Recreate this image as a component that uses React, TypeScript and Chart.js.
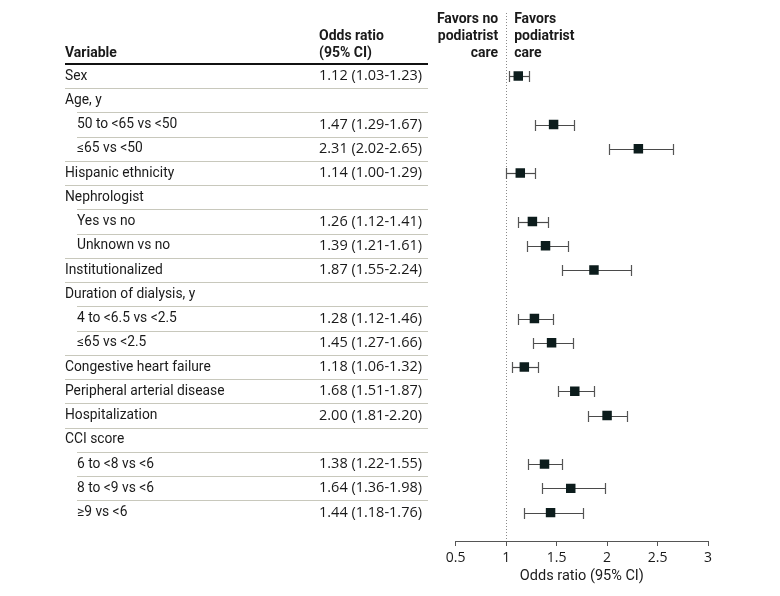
import React, { useEffect, useRef } from "react";
import { Chart, registerables } from "chart.js";

Chart.register(...registerables);

const variables = [
  "Sex",
  "Age, y",
  "50 to <65 vs <50",
  "≤65 vs <50",
  "Hispanic ethnicity",
  "Nephrologist",
  "Yes vs no",
  "Unknown vs no",
  "Institutionalized",
  "Duration of dialysis, y",
  "4 to <6.5 vs <2.5",
  "≤65 vs <2.5",
  "Congestive heart failure",
  "Peripheral arterial disease",
  "Hospitalization",
  "CCI score",
  "6 to <8 vs <6",
  "8 to <9 vs <6",
  "≥9 vs <6",
];
const indentLevels = [0, 0, 1, 1, 0, 0, 1, 1, 0, 0, 1, 1, 0, 0, 0, 0, 1, 1, 1];
const oddsRatios = [1.12, null, 1.47, 2.31, 1.14, null, 1.26, 1.39, 1.87, null, 1.28, 1.45, 1.18, 1.68, 2.0, null, 1.38, 1.64, 1.44];
const ciLower = [1.03, null, 1.29, 2.02, 1.0, null, 1.12, 1.21, 1.55, null, 1.12, 1.27, 1.06, 1.51, 1.81, null, 1.22, 1.36, 1.18];
const ciUpper = [1.23, null, 1.67, 2.65, 1.29, null, 1.41, 1.61, 2.24, null, 1.46, 1.66, 1.32, 1.87, 2.2, null, 1.55, 1.98, 1.76];
const xTicks = [0.5, 1, 1.5, 2, 2.5, 3];
const referenceValue = 1;

const FONT = "Roboto, 'Noto Sans', sans-serif";
const NUMFONT = "'Open Sans', Roboto, sans-serif";
const TEXT = "#1a1a1a";

function fmt(v: number) {
  return v.toFixed(2);
}

const tablePlugin = {
  id: "forestTable",
  beforeDatasetsDraw(chart: any) {
    const ctx = chart.ctx;
    const xs = chart.scales.x;
    const ys = chart.scales.y;
    const area = chart.chartArea;
    ctx.save();
    // reference dotted line
    const rx = Math.round(xs.getPixelForValue(referenceValue)) + 0.5;
    ctx.strokeStyle = "#8a8a8a";
    ctx.lineWidth = 1;
    ctx.setLineDash([1, 2]);
    ctx.beginPath();
    ctx.moveTo(rx, area.top);
    ctx.lineTo(rx, area.bottom);
    ctx.stroke();
    ctx.setLineDash([]);

    // error bars
    const capH = 5.5;
    for (let i = 0; i < variables.length; i++) {
      const lo = ciLower[i];
      const hi = ciUpper[i];
      if (lo == null || hi == null) continue;
      const y = Math.round(ys.getPixelForValue(i)) + 0.5;
      const x1 = Math.round(xs.getPixelForValue(lo)) + 0.5;
      const x2 = Math.round(xs.getPixelForValue(hi)) + 0.5;
      ctx.strokeStyle = "#4a4a4a";
      ctx.lineWidth = 1.2;
      ctx.beginPath();
      ctx.moveTo(x1, y);
      ctx.lineTo(x2, y);
      ctx.stroke();
      ctx.strokeStyle = "#555";
      ctx.beginPath();
      ctx.moveTo(x1, y - capH);
      ctx.lineTo(x1, y + capH);
      ctx.moveTo(x2, y - capH);
      ctx.lineTo(x2, y + capH);
      ctx.stroke();
    }
    ctx.restore();
  },
  afterDraw(chart: any) {
    const ctx = chart.ctx;
    const ys = chart.scales.y;
    const xs = chart.scales.x;
    const colLeft = 65;
    const colIndent = 77;
    const colOR = 319;
    const colRight = 428;
    ctx.save();
    ctx.textBaseline = "middle";
    ctx.fillStyle = TEXT;

    // header
    ctx.font = `bold 14px ${FONT}`;
    ctx.textAlign = "left";
    const hY2 = ys.getPixelForValue(-0.95);
    const hY1 = ys.getPixelForValue(-1.63);
    const hY0 = ys.getPixelForValue(-2.32);
    ctx.fillText("Variable", colLeft, hY2);
    ctx.fillText("Odds ratio", colOR, hY1);
    ctx.fillText("(95% CI)", colOR, hY2);

    const rx = xs.getPixelForValue(referenceValue);
    ctx.textAlign = "right";
    ctx.fillText("Favors no", rx - 8, hY0);
    ctx.fillText("podiatrist", rx - 8, hY1);
    ctx.fillText("care", rx - 8, hY2);
    ctx.textAlign = "left";
    ctx.fillText("Favors", rx + 8, hY0);
    ctx.fillText("podiatrist", rx + 8, hY1);
    ctx.fillText("care", rx + 8, hY2);

    // header rule
    const topLine = Math.round(ys.getPixelForValue(-0.5));
    ctx.fillStyle = "#111";
    ctx.fillRect(colLeft, topLine - 1, colRight - colLeft, 2);

    // separators
    ctx.strokeStyle = "#c8c8bc";
    ctx.lineWidth = 1;
    for (let i = 0; i < variables.length - 1; i++) {
      const y = Math.round(ys.getPixelForValue(i + 0.5)) + 0.5;
      const start = indentLevels[i + 1] === 1 ? colIndent : colLeft;
      ctx.beginPath();
      ctx.moveTo(start, y);
      ctx.lineTo(colRight, y);
      ctx.stroke();
    }

    // rows
    ctx.fillStyle = TEXT;
    ctx.textAlign = "left";
    for (let i = 0; i < variables.length; i++) {
      const y = ys.getPixelForValue(i);
      const x = indentLevels[i] === 1 ? colIndent : colLeft;
      ctx.font = `400 13.8px ${FONT}`;
      ctx.fillText(variables[i], x, y);
      const o = oddsRatios[i];
      const lo = ciLower[i];
      const hi = ciUpper[i];
      if (o != null && lo != null && hi != null) {
        ctx.font = `400 14.5px ${NUMFONT}`;
        ctx.fillText(`${fmt(o)} (${fmt(lo)}-${fmt(hi)})`, colOR, y);
      }
    }
    ctx.restore();
  },
};

export default function App() {
  const ref = useRef<HTMLCanvasElement | null>(null);
  useEffect(() => {
    if (!ref.current) return;
    const points = oddsRatios
      .map((v, i) => (v == null ? null : { x: v, y: i }))
      .filter((p) => p !== null) as { x: number; y: number }[];
    const chart = new Chart(ref.current, {
      type: "scatter",
      data: {
        datasets: [
          {
            data: points,
            pointStyle: "rect",
            pointRadius: 6.7,
            pointHoverRadius: 6.7,
            backgroundColor: "#0c1c1c",
            borderColor: "#0c1c1c",
            borderWidth: 0,
          },
        ],
      },
      options: {
        animation: false,
        responsive: false,
        devicePixelRatio: 1,
        events: [],
        layout: { padding: { left: 455.7, right: 72, top: 13, bottom: 0 } },
        plugins: { legend: { display: false }, tooltip: { enabled: false }, title: { display: false } },
        scales: {
          x: {
            type: "linear",
            min: 0.5,
            max: 3,
            afterBuildTicks: (scale: any) => {
              scale.ticks = xTicks.map((v) => ({ value: v }));
            },
            afterFit: (scale: any) => {
              scale.height = 55;
            },
            grid: {
              drawOnChartArea: false,
              drawTicks: true,
              tickLength: 5,
              color: "#555",
            },
            border: { display: true, color: "#555", width: 1 },
            ticks: {
              color: TEXT,
              padding: 4,
              font: { family: NUMFONT, size: 14 },
              callback: (v: any) => String(v),
            },
            title: {
              display: true,
              text: "Odds ratio (95% CI)",
              color: TEXT,
              font: { family: FONT, size: 14.5 },
              padding: { top: 4, bottom: 11 },
            },
          },
          y: {
            type: "linear",
            reverse: true,
            min: -2.6,
            max: 19.17,
            display: false,
          },
        },
      },
      plugins: [tablePlugin],
    } as any);
    return () => chart.destroy();
  }, []);
  return (
    <div style={{ position: "fixed", left: 0, top: 0, width: 780, height: 596, background: "#fff" }}>
      <canvas ref={ref} width={780} height={596} style={{ width: 780, height: 596, display: "block" }} />
    </div>
  );
}
